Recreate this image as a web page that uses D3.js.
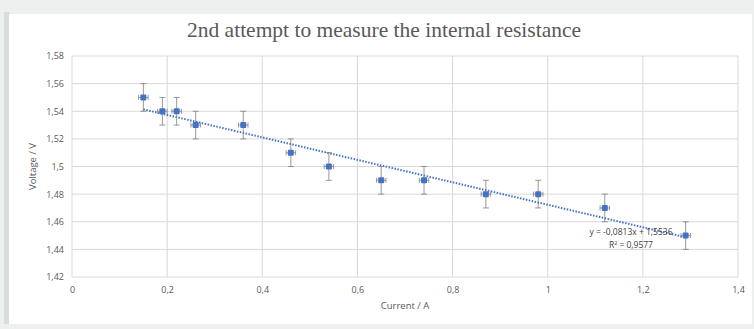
<!DOCTYPE html>
<html>
<head>
<meta charset="utf-8">
<script src="https://cdn.jsdelivr.net/npm/d3@7"></script>
<style>
  body { margin: 0; background: #eef0f0; }
  svg { display: block; }
</style>
</head>
<body>
<svg width="754" height="329"></svg>
<script>
const current = [0.15, 0.19, 0.22, 0.26, 0.36, 0.46, 0.54, 0.65, 0.74, 0.87, 0.98, 1.12, 1.29];
const voltage = [1.55, 1.54, 1.54, 1.53, 1.53, 1.51, 1.50, 1.49, 1.49, 1.48, 1.48, 1.47, 1.45];
const xErr = 0.01;
const yErr = 0.01;
const xTicks = [0, 0.2, 0.4, 0.6, 0.8, 1, 1.2, 1.4];
const yTicks = [1.42, 1.44, 1.46, 1.48, 1.5, 1.52, 1.54, 1.56, 1.58];
const slope = -0.0813;
const intercept = 1.5536;
const rSquared = '0,9577';

const svg = d3.select('svg');
const fmt = d => String(d).replace('.', ',');

// chart frame with a soft shadow on the left
svg.append('rect').attr('x', 4).attr('y', 12).attr('width', 6).attr('height', 312).attr('fill', '#d9dcdc');
svg.append('rect').attr('x', 9).attr('y', 14).attr('width', 743).attr('height', 310).attr('fill', '#fff');

const margin = { top: 56, right: 16, bottom: 52, left: 72 };
const innerWidth = 754 - margin.left - margin.right;
const innerHeight = 329 - margin.top - margin.bottom;

const xScale = d3.scaleLinear().domain([0, 1.4]).range([0, innerWidth]);
const yScale = d3.scaleLinear().domain([1.42, 1.58]).range([innerHeight, 0]);

const g = svg.append('g').attr('transform', `translate(${margin.left}, ${margin.top})`);

// grid
g.append('g').selectAll('line').data(yTicks).enter().append('line')
  .attr('x1', 0).attr('x2', innerWidth)
  .attr('y1', d => yScale(d)).attr('y2', d => yScale(d))
  .attr('stroke', '#d9d9d9').attr('stroke-width', 1);
g.append('g').selectAll('line').data(xTicks).enter().append('line')
  .attr('y1', 0).attr('y2', innerHeight)
  .attr('x1', d => xScale(d)).attr('x2', d => xScale(d))
  .attr('stroke', '#d9d9d9').attr('stroke-width', 1);

// axes (labels only)
const xAxis = g.append('g').attr('transform', `translate(0, ${innerHeight})`)
  .attr('font-size', 9).attr('font-family', 'Open Sans, sans-serif')
  .call(d3.axisBottom(xScale).tickValues(xTicks).tickFormat(fmt).tickSize(0).tickPadding(10));
const yAxis = g.append('g')
  .attr('font-size', 9).attr('font-family', 'Open Sans, sans-serif')
  .call(d3.axisLeft(yScale).tickValues(yTicks).tickFormat(fmt).tickSize(0).tickPadding(8));
[xAxis, yAxis].forEach(a => {
  a.attr('font-size', 9).attr('font-family', 'Open Sans, sans-serif');
  a.select('.domain').remove();
  a.selectAll('text').attr('fill', '#595959');
});

// axis titles
svg.append('text').attr('x', margin.left + xScale(0.7)).attr('y', 309)
  .attr('text-anchor', 'middle').attr('fill', '#595959')
  .style('font-family', 'Open Sans, sans-serif').style('font-size', '9.5px').text('Current / A');
svg.append('text').attr('transform', `translate(36, ${margin.top + yScale(1.5)}) rotate(-90)`)
  .attr('text-anchor', 'middle').attr('fill', '#595959')
  .style('font-family', 'Open Sans, sans-serif').style('font-size', '9.5px').text('Voltage / V');

// title
svg.append('text').attr('x', 384).attr('y', 37).attr('text-anchor', 'middle')
  .attr('fill', '#595959').style('font-family', 'Liberation Serif, serif').style('font-size', '21.5px')
  .text('2nd attempt to measure the internal resistance');

const data = current.map((c, i) => ({ x: c, y: voltage[i] }));

// trendline
const xMin = d3.min(current), xMax = d3.max(current);
g.append('line')
  .attr('x1', xScale(xMin)).attr('y1', yScale(slope * xMin + intercept))
  .attr('x2', xScale(xMax)).attr('y2', yScale(slope * xMax + intercept))
  .attr('stroke', '#4472c4').attr('stroke-width', 2).attr('stroke-dasharray', '1.5,1.5');

// error bars
const eb = g.append('g').attr('stroke', '#7f7f7f').attr('stroke-width', 0.8);
data.forEach(d => {
  eb.append('line').attr('x1', xScale(d.x)).attr('x2', xScale(d.x))
    .attr('y1', yScale(d.y - yErr)).attr('y2', yScale(d.y + yErr));
  [d.y - yErr, d.y + yErr].forEach(v => eb.append('line')
    .attr('x1', xScale(d.x) - 3).attr('x2', xScale(d.x) + 3)
    .attr('y1', yScale(v)).attr('y2', yScale(v)));
  eb.append('line').attr('y1', yScale(d.y)).attr('y2', yScale(d.y))
    .attr('x1', xScale(d.x - xErr)).attr('x2', xScale(d.x + xErr));
  [d.x - xErr, d.x + xErr].forEach(v => eb.append('line')
    .attr('y1', yScale(d.y) - 2.5).attr('y2', yScale(d.y) + 2.5)
    .attr('x1', xScale(v)).attr('x2', xScale(v)));
});

// points
g.selectAll('rect.pt').data(data).enter().append('rect').attr('class', 'pt')
  .attr('x', d => xScale(d.x) - 3).attr('y', d => yScale(d.y) - 3)
  .attr('width', 6).attr('height', 6).attr('rx', 1)
  .attr('fill', '#4472c4');

// equation label
const eq = svg.append('g').attr('fill', '#404040')
  .style('font-family', 'Open Sans, sans-serif').style('font-size', '8.5px').attr('text-anchor', 'middle');
eq.append('text').attr('x', 631).attr('y', 235).text('y = -0,0813x + 1,5536');
eq.append('text').attr('x', 631).attr('y', 248).text('R² = ' + rSquared);
</script>
</body>
</html>
